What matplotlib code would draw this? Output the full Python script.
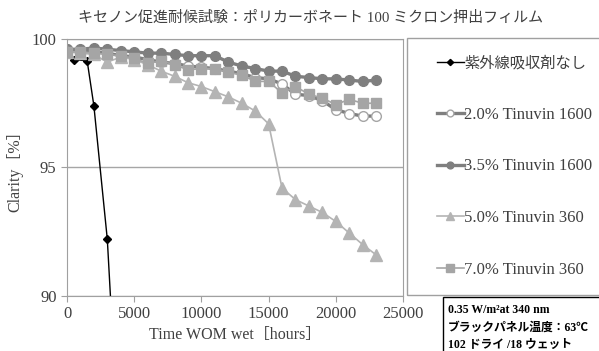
import matplotlib.pyplot as plt
from matplotlib.patches import Rectangle

# data
hours = [0, 1000, 2000, 3000, 4000, 5000, 6000, 7000, 8000, 9000, 10000, 11000,
         12000, 13000, 14000, 15000, 16000, 17000, 18000, 19000, 20000, 21000,
         22000, 23000]
no_uva_hours = [500, 1500, 2000, 3000, 4000]
no_uva = [99.2, 99.15, 97.4, 92.2, 82.7]
t1600_20 = [99.6, 99.55, 99.5, 99.45, 99.35, 99.3, 99.2, 99.1, 99.05, 98.95, 98.9, 98.85,
            98.75, 98.65, 98.5, 98.45, 98.25, 97.85, 97.8, 97.6, 97.25, 97.1, 97.0, 97.0]
t1600_35 = [99.6, 99.6, 99.65, 99.6, 99.55, 99.5, 99.45, 99.45, 99.4, 99.35, 99.35, 99.35,
            99.1, 98.95, 98.85, 98.75, 98.75, 98.55, 98.5, 98.45, 98.45, 98.4, 98.35, 98.4]
t360_50 = [99.5, 99.45, 99.4, 99.1, 99.3, 99.2, 99.0, 98.75, 98.55, 98.3, 98.15, 97.95,
           97.75, 97.5, 97.2, 96.7, 94.2, 93.75, 93.5, 93.25, 92.9, 92.45, 92.0, 91.6]
t360_70 = [99.5, 99.5, 99.45, 99.4, 99.35, 99.25, 99.05, 99.15, 99.0, 98.8, 98.85, 98.85,
           98.7, 98.6, 98.35, 98.35, 97.9, 98.15, 97.85, 97.7, 97.45, 97.65, 97.5, 97.5]
labels = ['紫外線吸収剤なし', '2.0% Tinuvin 1600', '3.5% Tinuvin 1600',
          '5.0% Tinuvin 360', '7.0% Tinuvin 360']

W, H = 599, 351
MIX = ['Liberation Serif', 'Noto Sans CJK JP']


def main():
    fig = plt.figure(figsize=(W / 100, H / 100), dpi=100)
    ax = fig.add_axes([67 / W, 1 - 296 / H, 336 / W, 257 / H])

    ax.plot(no_uva_hours, no_uva, color='black', lw=1, marker='D', ms=4.5,
            label=labels[0])
    ax.plot(hours, t1600_20, color='#7f7f7f', lw=2.4, marker='o', ms=7,
            mfc='white', mec='#a5a5a5', mew=1, label=labels[1])
    ax.plot(hours, t1600_35, color='#7f7f7f', lw=2.4, marker='o', ms=7,
            mfc='#7f7f7f', mec='#7f7f7f', label=labels[2])
    ax.plot(hours, t360_50, color='#b4b4b4', lw=1.2, marker='^', ms=8,
            mfc='#b4b4b4', mec='#b4b4b4', label=labels[3])
    ax.plot(hours, t360_70, color='#a5a5a5', lw=1.2, marker='s', ms=7.5,
            mfc='#a5a5a5', mec='#a5a5a5', label=labels[4])

    ax.set_xlim(0, 25000)
    ax.set_ylim(90, 100)
    ax.set_xticks([0, 5000, 10000, 15000, 20000, 25000])
    ax.set_yticks([90, 95, 100])
    ax.yaxis.grid(True, color='#a6a6a6', lw=1)
    ax.set_axisbelow(True)
    for s in ax.spines.values():
        s.set_color('#a0a0a0')
    ax.tick_params(direction='out', length=4, color='#a0a0a0',
                   labelcolor='#404040', labelsize=12)
    for t in ax.get_xticklabels() + ax.get_yticklabels():
        t.set_family('Liberation Serif')

    ax.set_xlabel('Time WOM wet［hours］', family=MIX, fontsize=11.5,
                  color='#404040', labelpad=3)
    ax.set_ylabel('Clarity［%］', family=MIX, fontsize=11.5,
                  color='#404040', labelpad=6)

    fig.text(311 / W, 1 - 18 / H,
             'キセノン促進耐候試験：ポリカーボネート 100 ミクロン押出フィルム',
             family=MIX, fontsize=10.8, color='#404040', ha='center', va='center')

    # legend box (runs past the right edge of the picture)
    fig.patches.append(Rectangle((407 / W, 1 - 295 / H), 250 / W, 257 / H,
                                 transform=fig.transFigure, fill=False,
                                 ec='#a0a0a0', lw=1))
    leg = fig.legend(loc='upper left', bbox_to_anchor=(422 / W, 1 - 41 / H),
                     frameon=False, handlelength=1.6, handletextpad=0.05,
                     labelspacing=2.15, markerscale=0.7,
                     prop={'family': MIX, 'size': 12})
    for t in leg.get_texts():
        t.set_color('#404040')
    leg.get_texts()[0].set_fontsize(11)

    # condition note box
    fig.patches.append(Rectangle((443 / W, 1 - 400 / H), 200 / W, 103 / H,
                                 transform=fig.transFigure, fill=False,
                                 ec='black', lw=1))
    notes = ['0.35 W/m²at 340 nm', 'ブラックパネル温度：63℃', '102 ドライ /18 ウェット']
    for i, line in enumerate(notes):
        fig.text(448 / W, 1 - (310 + 17.5 * i) / H, line, family=MIX,
                 fontsize=8.5, weight='bold', color='black', va='center')

    fig.savefig('out.png', dpi=100)


if __name__ == '__main__':
    main()
